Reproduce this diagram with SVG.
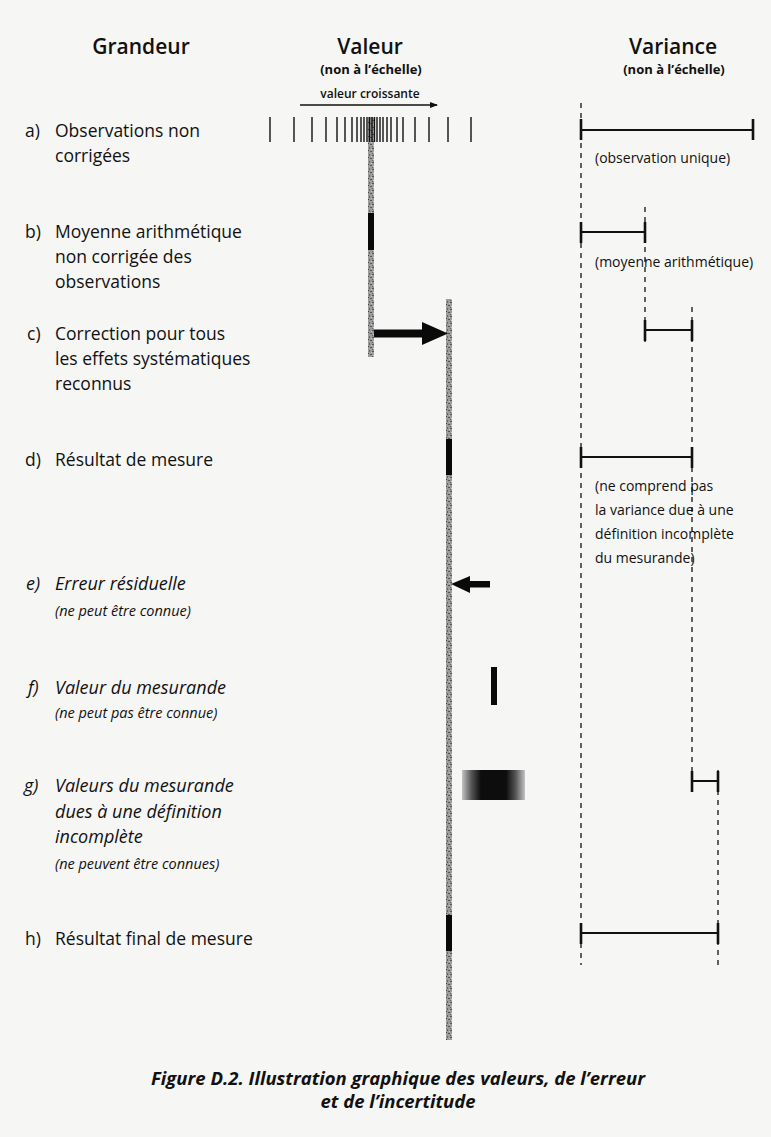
<svg xmlns="http://www.w3.org/2000/svg" width="771" height="1137" viewBox="0 0 771 1137">
<defs>
<style>
.hd{font-family:"Open Sans","Liberation Sans",sans-serif;font-size:21px;font-weight:600;fill:#111}
.sub{font-family:"Open Sans","Liberation Sans",sans-serif;font-size:13px;font-weight:700;fill:#111}
.lb{font-family:"Open Sans","Liberation Sans",sans-serif;font-size:17.5px;fill:#111}
.it{font-style:italic;font-size:18px}
.sm{font-family:"Open Sans","Liberation Sans",sans-serif;font-size:14.5px;font-style:italic;fill:#111}
.vt{font-family:"Open Sans","Liberation Sans",sans-serif;font-size:14px;fill:#111}
.cap{font-family:"Open Sans","Liberation Sans",sans-serif;font-size:18.5px;font-weight:700;font-style:italic;fill:#111}
.tick{stroke:#111;stroke-width:1.4}
.dash{stroke:#111;stroke-width:1.3;stroke-dasharray:5 5;fill:none}
.vbar{stroke:#111;stroke-width:2;fill:none}
.vcap{stroke:#111;stroke-width:2.6;fill:none}
.blk{fill:#0a0a0a}
</style>
<pattern id="tex" width="6" height="7" patternUnits="userSpaceOnUse">
<rect width="6" height="7" fill="#9c9c9c"/>
<rect x="0" y="1" width="2" height="1" fill="#555"/>
<rect x="3" y="0" width="1" height="2" fill="#666"/>
<rect x="4" y="4" width="2" height="1" fill="#555"/>
<rect x="1" y="5" width="1" height="1" fill="#cfcfcf"/>
<rect x="2" y="3" width="1" height="1" fill="#444"/>
<rect x="5" y="2" width="1" height="1" fill="#c4c4c4"/>
<rect x="0" y="6" width="1" height="1" fill="#666"/>
</pattern>
<linearGradient id="gfade" x1="0" y1="0" x2="1" y2="0">
<stop offset="0" stop-color="#c4c4c4"/>
<stop offset="0.15" stop-color="#555"/>
<stop offset="0.3" stop-color="#0d0d0d"/>
<stop offset="0.7" stop-color="#0d0d0d"/>
<stop offset="0.85" stop-color="#555"/>
<stop offset="1" stop-color="#c4c4c4"/>
</linearGradient>
<marker id="ah" markerWidth="8" markerHeight="6" refX="7" refY="3" orient="auto" markerUnits="userSpaceOnUse">
<path d="M0,0 L8,3 L0,6 Z" fill="#111"/>
</marker>
</defs>
<rect width="771" height="1137" fill="#f6f6f4"/>

<g id="headers">
<text class="hd" x="141" y="54" text-anchor="middle">Grandeur</text>
<text class="hd" x="370" y="54" text-anchor="middle">Valeur</text>
<text class="sub" x="371" y="74" text-anchor="middle">(non à l’échelle)</text>
<text class="hd" x="673" y="54" text-anchor="middle">Variance</text>
<text class="sub" x="674" y="74" text-anchor="middle">(non à l’échelle)</text>
<text class="sub" x="370" y="98" text-anchor="middle" style="font-weight:600;font-size:12px">valeur croissante</text>
</g>

<g id="label-a">
<text class="lb" x="25" y="137">a)</text>
<text class="lb" x="55" y="137">Observations non</text>
<text class="lb" x="55" y="162">corrigées</text>
</g>
<g id="label-b">
<text class="lb" x="25" y="238">b)</text>
<text class="lb" x="55" y="238">Moyenne arithmétique</text>
<text class="lb" x="55" y="263">non corrigée des</text>
<text class="lb" x="55" y="288">observations</text>
</g>
<g id="label-c">
<text class="lb" x="27" y="340">c)</text>
<text class="lb" x="55" y="340">Correction pour tous</text>
<text class="lb" x="55" y="365">les effets systématiques</text>
<text class="lb" x="55" y="390">reconnus</text>
</g>
<g id="label-d">
<text class="lb" x="25" y="466">d)</text>
<text class="lb" x="55" y="466">Résultat de mesure</text>
</g>
<g id="label-e">
<text class="lb it" x="26" y="590">e)</text>
<text class="lb it" x="55" y="590">Erreur résiduelle</text>
<text class="sm" x="55" y="616">(ne peut être connue)</text>
</g>
<g id="label-f">
<text class="lb it" x="28" y="694">f)</text>
<text class="lb it" x="55" y="694">Valeur du mesurande</text>
<text class="sm" x="55" y="718">(ne peut pas être connue)</text>
</g>
<g id="label-g">
<text class="lb it" x="24" y="792">g)</text>
<text class="lb it" x="55" y="792">Valeurs du mesurande</text>
<text class="lb it" x="55" y="818">dues à une définition</text>
<text class="lb it" x="55" y="843">incomplète</text>
<text class="sm" x="55" y="869">(ne peuvent être connues)</text>
</g>
<g id="label-h">
<text class="lb" x="25" y="945">h)</text>
<text class="lb" x="55" y="945">Résultat final de mesure</text>
</g>

<g id="observations">
<rect x="368" y="117" width="6" height="240" fill="url(#tex)"/>
<g class="tick">
<line x1="270" y1="117" x2="270" y2="142"/>
<line x1="294" y1="117" x2="294" y2="142"/>
<line x1="312" y1="117" x2="312" y2="142"/>
<line x1="326" y1="117" x2="326" y2="142"/>
<line x1="337" y1="117" x2="337" y2="142"/>
<line x1="345" y1="117" x2="345" y2="142"/>
<line x1="352" y1="117" x2="352" y2="142"/>
<line x1="357" y1="117" x2="357" y2="142"/>
<line x1="361" y1="117" x2="361" y2="142"/>
<line x1="364" y1="117" x2="364" y2="142"/>
<line x1="367" y1="117" x2="367" y2="142"/>
<line x1="369.5" y1="117" x2="369.5" y2="142"/>
<line x1="372" y1="117" x2="372" y2="142"/>
<line x1="374.5" y1="117" x2="374.5" y2="142"/>
<line x1="377" y1="117" x2="377" y2="142"/>
<line x1="380" y1="117" x2="380" y2="142"/>
<line x1="383" y1="117" x2="383" y2="142"/>
<line x1="387" y1="117" x2="387" y2="142"/>
<line x1="391" y1="117" x2="391" y2="142"/>
<line x1="397" y1="117" x2="397" y2="142"/>
<line x1="403" y1="117" x2="403" y2="142"/>
<line x1="415" y1="117" x2="415" y2="142"/>
<line x1="429" y1="117" x2="429" y2="142"/>
<line x1="448" y1="117" x2="448" y2="142"/>
<line x1="471" y1="117" x2="471" y2="142"/>
</g>
<rect class="blk" x="368" y="213" width="6" height="37"/>
</g>

<g id="result-bar">
<rect x="446" y="299" width="6" height="741" fill="url(#tex)"/>
<rect class="blk" x="446" y="439" width="6" height="36"/>
<rect class="blk" x="446" y="915" width="6" height="36"/>
</g>

<g id="measurand-value">
<rect class="blk" x="491" y="667" width="6" height="38"/>
</g>

<g id="measurand-values">
<rect x="462" y="770" width="63" height="30" fill="url(#gfade)"/>
</g>

<g id="variance">
<line class="dash" x1="581" y1="103" x2="581" y2="965"/>
<line class="dash" x1="645" y1="207" x2="645" y2="345"/>
<line class="dash" x1="692" y1="307" x2="692" y2="792"/>
<line class="dash" x1="718" y1="770" x2="718" y2="965"/>
<g id="var-a">
<line class="vbar" x1="581" y1="130" x2="753" y2="130"/>
<line class="vcap" x1="581" y1="119" x2="581" y2="140"/>
<line class="vcap" x1="753" y1="119" x2="753" y2="140"/>
<text class="vt" x="595" y="163">(observation unique)</text>
</g>
<g id="var-b">
<line class="vbar" x1="581" y1="232" x2="645" y2="232"/>
<line class="vcap" x1="581" y1="222" x2="581" y2="243"/>
<line class="vcap" x1="645" y1="222" x2="645" y2="243"/>
<text class="vt" x="595" y="267">(moyenne arithmétique)</text>
</g>
<g id="var-c">
<line class="vbar" x1="645" y1="330" x2="692" y2="330"/>
<line class="vcap" x1="645" y1="320" x2="645" y2="341"/>
<line class="vcap" x1="692" y1="320" x2="692" y2="341"/>
</g>
<g id="var-d">
<line class="vbar" x1="581" y1="457" x2="692" y2="457"/>
<line class="vcap" x1="581" y1="447" x2="581" y2="468"/>
<line class="vcap" x1="692" y1="447" x2="692" y2="468"/>
<text class="vt" x="595" y="491">(ne comprend pas</text>
<text class="vt" x="595" y="515">la variance due à une</text>
<text class="vt" x="595" y="539">définition incomplète</text>
<text class="vt" x="595" y="563">du mesurande)</text>
</g>
<g id="var-g">
<line class="vbar" x1="692" y1="781" x2="718" y2="781"/>
<line class="vcap" x1="692" y1="771" x2="692" y2="792"/>
<line class="vcap" x1="718" y1="771" x2="718" y2="792"/>
</g>
<g id="var-h">
<line class="vbar" x1="581" y1="933" x2="718" y2="933"/>
<line class="vcap" x1="581" y1="923" x2="581" y2="944"/>
<line class="vcap" x1="718" y1="923" x2="718" y2="944"/>
</g>
</g>

<g id="connectors">
<line x1="300" y1="105" x2="437" y2="105" stroke="#111" stroke-width="1.6" marker-end="url(#ah)"/>
<path d="M374,329.5 L422,329.5 L422,322 L448,333.5 L422,345 L422,337.5 L374,337.5 Z" fill="#0a0a0a"/>
<path d="M490,581 L470,581 L470,576 L451,584 L470,593 L470,587.5 L490,587.5 Z" fill="#0a0a0a"/>
</g>

<g id="caption">
<text class="cap" x="398" y="1085" text-anchor="middle">Figure D.2. Illustration graphique des valeurs, de l’erreur</text>
<text class="cap" x="398" y="1108" text-anchor="middle">et de l’incertitude</text>
</g>
</svg>
